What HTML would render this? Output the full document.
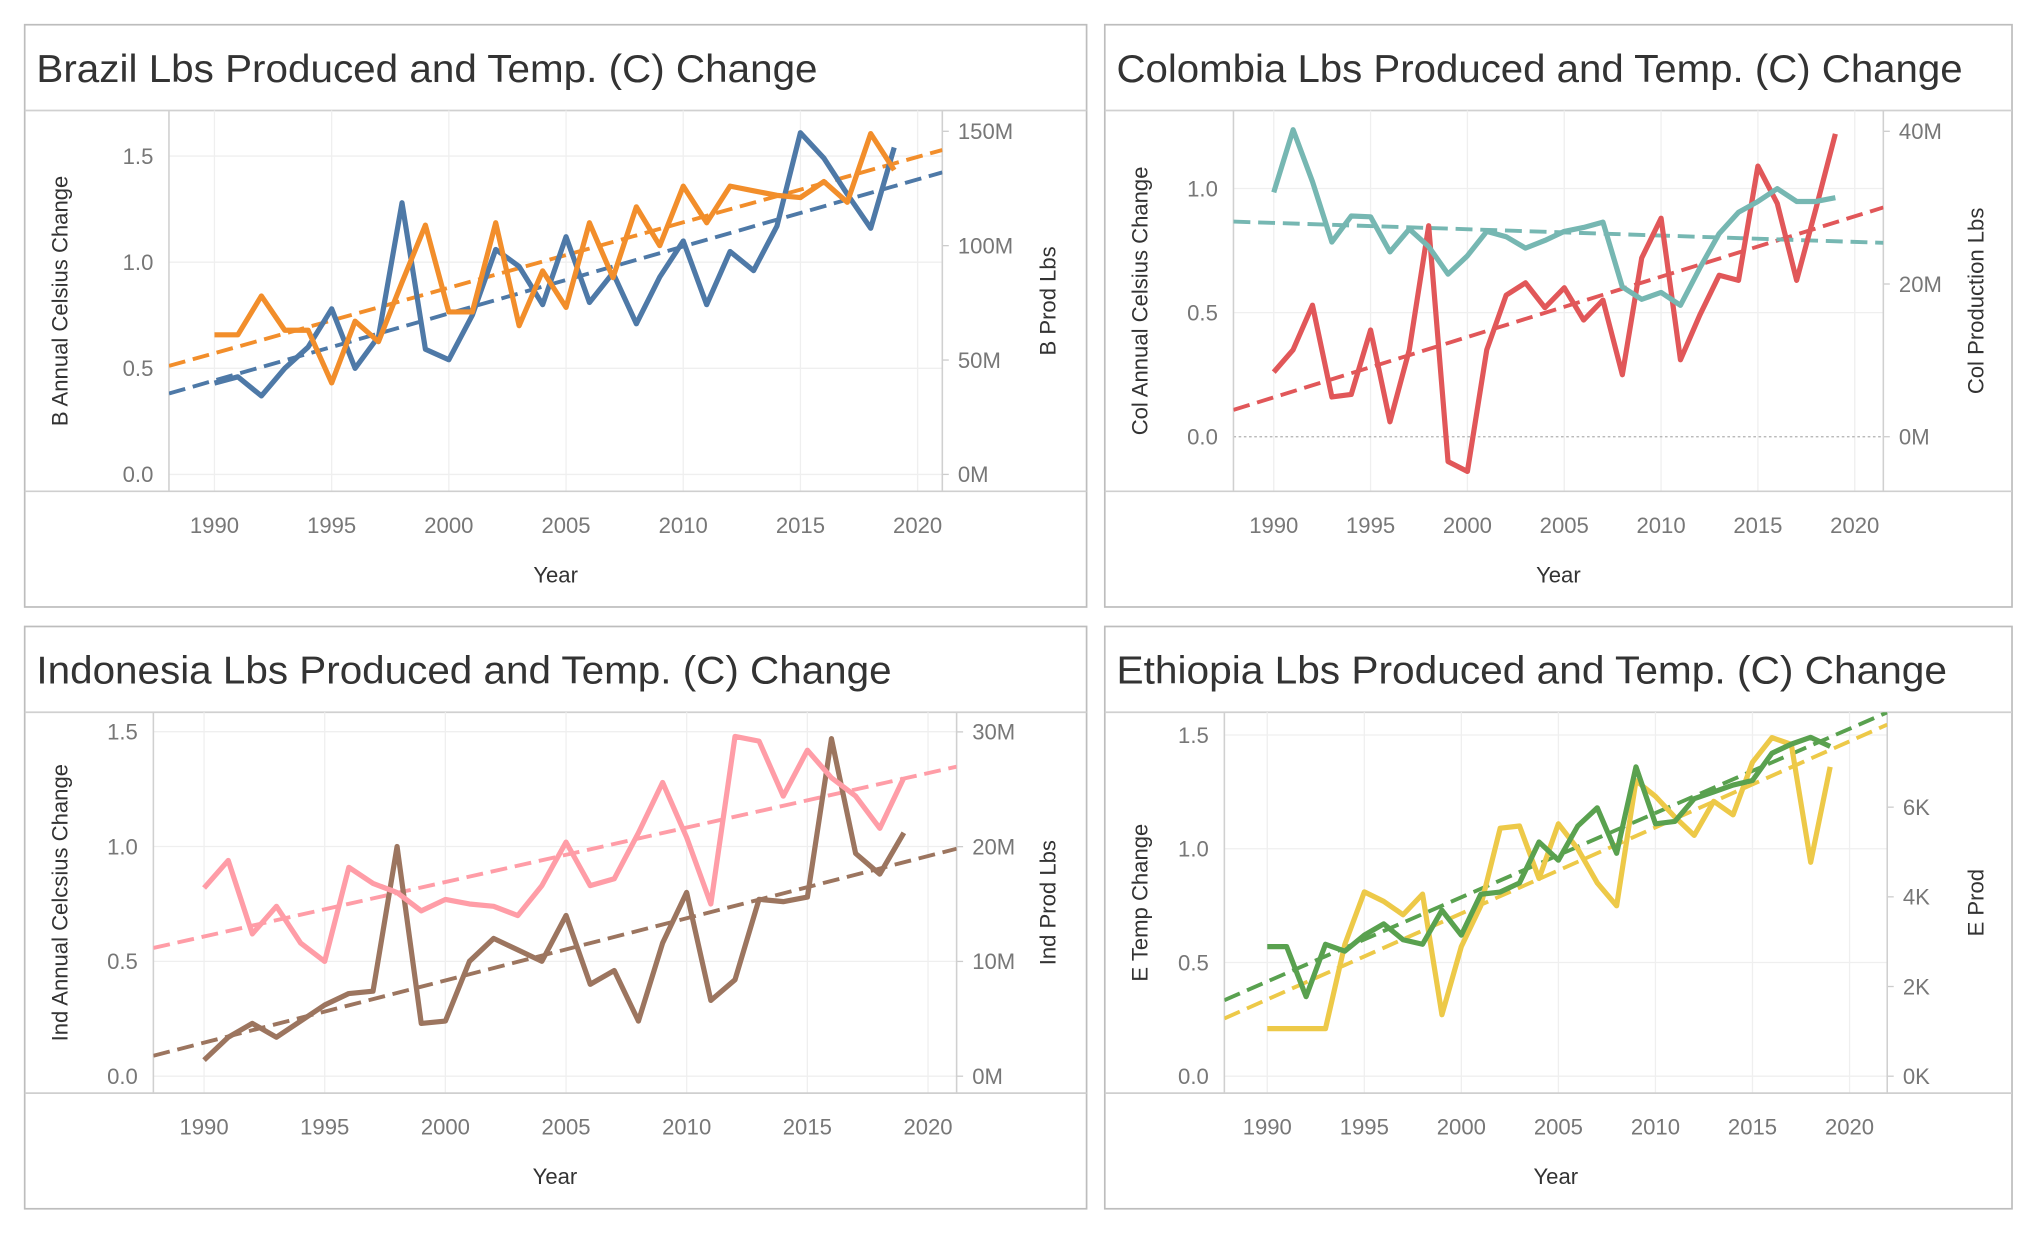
<!DOCTYPE html>
<html><head><meta charset="utf-8">
<style>
html,body{margin:0;padding:0;background:#fff;}
svg{display:block;}
text{font-family:"Liberation Sans",sans-serif;}
</style></head>
<body>
<svg id="chart" width="2038" height="1234" viewBox="0 0 1568 949.4" xmlns="http://www.w3.org/2000/svg"></svg>
<script>
// ---------- data ----------
const years = [1990,1991,1992,1993,1994,1995,1996,1997,1998,1999,2000,2001,2002,2003,2004,2005,2006,2007,2008,2009,2010,2011,2012,2013,2014,2015,2016,2017,2018,2019];
const xTicks = [1990,1995,2000,2005,2010,2015,2020];

const brazilTemp = [0.43,0.46,0.37,0.50,0.60,0.78,0.50,0.65,1.28,0.59,0.54,0.75,1.06,0.98,0.80,1.12,0.81,0.95,0.71,0.93,1.10,0.80,1.05,0.96,1.17,1.61,1.49,1.32,1.16,1.54];
const brazilProd = [61,61,78,63,63,40,67,58,84,109,71,71,110,65,89,73,110,86,117,100,126,110,126,124,122,121,128,119,149,133];
const brazilLeftTicks = [0,0.5,1.0,1.5];
const brazilRightTicks = [0,50,100,150];

const colombiaTemp = [0.26,0.35,0.53,0.16,0.17,0.43,0.06,0.35,0.85,-0.10,-0.14,0.35,0.57,0.62,0.52,0.60,0.47,0.55,0.25,0.72,0.88,0.31,0.49,0.65,0.63,1.09,0.94,0.63,0.92,1.22];
const colombiaProd = [32.0,40.2,33.4,25.5,28.9,28.8,24.2,27.2,24.9,21.3,23.7,26.9,26.2,24.7,25.7,26.9,27.4,28.1,19.6,18.0,18.9,17.2,22.1,26.6,29.4,30.8,32.5,30.8,30.8,31.3];
const colombiaLeftTicks = [0,0.5,1.0];
const colombiaRightTicks = [0,20,40];

const indonesiaTemp = [0.07,0.17,0.23,0.17,0.24,0.31,0.36,0.37,1.00,0.23,0.24,0.50,0.60,0.55,0.50,0.70,0.40,0.46,0.24,0.58,0.80,0.33,0.42,0.77,0.76,0.78,1.47,0.97,0.88,1.06];
const indonesiaProd = [16.4,18.8,12.4,14.8,11.6,10.0,18.2,16.8,16.0,14.4,15.4,15.0,14.8,14.0,16.6,20.4,16.6,17.2,21.2,25.6,20.8,15.0,29.6,29.2,24.4,28.4,26.0,24.4,21.6,26.0];
const indonesiaLeftTicks = [0,0.5,1.0,1.5];
const indonesiaRightTicks = [0,10,20,30];

const ethiopiaTemp = [0.57,0.57,0.35,0.58,0.55,0.62,0.67,0.60,0.58,0.73,0.62,0.80,0.81,0.85,1.03,0.95,1.10,1.18,0.98,1.36,1.11,1.12,1.22,1.25,1.28,1.30,1.42,1.46,1.49,1.45];
const ethiopiaProd = [1.06,1.06,1.06,1.06,2.94,4.11,3.90,3.60,4.06,1.37,2.89,3.80,5.53,5.58,4.41,5.63,5.07,4.31,3.80,6.59,6.24,5.78,5.37,6.13,5.83,7.00,7.55,7.40,4.77,6.90];
const ethiopiaLeftTicks = [0,0.5,1.0,1.5];
const ethiopiaRightTicks = [0,2,4,6];

// ---------- drawing ----------
const NS = "http://www.w3.org/2000/svg";
const svg = document.getElementById("chart");
function mk(tag, attrs, parent){
  const e = document.createElementNS(NS, tag);
  for (const k in attrs) e.setAttribute(k, attrs[k]);
  (parent||svg).appendChild(e);
  return e;
}
function regression(xs, ys){
  const n=xs.length; let sx=0,sy=0,sxx=0,sxy=0;
  for(let i=0;i<n;i++){sx+=xs[i];sy+=ys[i];sxx+=xs[i]*xs[i];sxy+=xs[i]*ys[i];}
  const b=(n*sxy-sx*sy)/(n*sxx-sx*sx); const a=(sy-b*sx)/n;
  return x=>a+b*x;
}

function drawPanel(c){
  const g = mk("g", {});
  
  
  const x = yr => c.x1990 + (yr-1990)*c.xPerYear;
  const yL = v => c.leftZero - v*c.leftPer;
  const yR = v => c.rightZero - v*c.rightPer;

  const border = mk("rect", {x:c.px, y:c.py, width:c.pw, height:c.ph, fill:"#fff", stroke:"#bdbdbd", "stroke-width":1.3}, g);
  
  

  const title = mk("text", {x:c.px+9, y:c.py+44, "font-size":30, fill:"#333", textLength:c.titleLen, lengthAdjust:"spacingAndGlyphs"}, g);
  title.textContent = c.title;
  
  

  const top = c.py+66, bottom = c.py+359;
  const sep1 = mk("line", {x1:c.px, x2:c.px+c.pw, y1:top, y2:top, stroke:"#d0d0d0", "stroke-width":1.3}, g);
  
  

  // gridlines
  xTicks.forEach(t=>{
    const l = mk("line", {x1:x(t), x2:x(t), y1:top, y2:bottom, stroke:"#efefef", "stroke-width":1}, g);
    
    
  });
  c.leftTicks.forEach(t=>{
    const yy = yL(t);
    const l = mk("line", {x1:c.plotL, x2:c.plotR, y1:yy, y2:yy, stroke: (t===0 && c.zeroDotted)?"#b0b0b0":"#efefef", "stroke-width":1, "stroke-dasharray": (t===0 && c.zeroDotted)?"2 2":"none"}, g);
    
    
    const lb = mk("text", {x:c.plotL-12, y:yy+6, "font-size":17, fill:"#777", "text-anchor":"end"}, g);
    lb.textContent = t.toFixed(1);
    
    
  });
  c.rightTicks.forEach(t=>{
    const yy = yR(t);
    const tk = mk("line", {x1:c.plotR, x2:c.plotR+5, y1:yy, y2:yy, stroke:"#ccc"}, g);
    
    
    const lb = mk("text", {x:c.plotR+12, y:yy+6, "font-size":17, fill:"#777"}, g);
    lb.textContent = t + c.rightUnit;
    
    
  });
  xTicks.forEach(t=>{
    const lb = mk("text", {x:x(t), y:bottom+32, "font-size":17, fill:"#777", "text-anchor":"middle"}, g);
    lb.textContent = t;
    
    
  });

  // axes borders
  const la = mk("line", {x1:c.plotL, x2:c.plotL, y1:top, y2:bottom, stroke:"#d0d0d0", "stroke-width":1.2}, g);
  
  
  const ra = mk("line", {x1:c.plotR, x2:c.plotR, y1:top, y2:bottom, stroke:"#d0d0d0", "stroke-width":1.2}, g);
  
  
  const ba = mk("line", {x1:c.px, x2:c.px+c.pw, y1:bottom, y2:bottom, stroke:"#cfcfcf", "stroke-width":1.3}, g);
  
  

  // axis titles
  const midY = (top+bottom)/2;
  const lt = mk("text", {x:0, y:0, "font-size":17, fill:"#333", "text-anchor":"middle", transform:`translate(${c.px+33},${midY}) rotate(-90)`}, g);
  lt.textContent = c.leftTitle;
  
  
  const rt = mk("text", {x:0, y:0, "font-size":17, fill:"#333", "text-anchor":"middle", transform:`translate(${c.rightTitleX},${midY}) rotate(-90)`}, g);
  rt.textContent = c.rightTitle;
  
  
  const xt = mk("text", {x:(c.plotL+c.plotR)/2, y:bottom+70, "font-size":17, fill:"#333", "text-anchor":"middle"}, g);
  xt.textContent = "Year";
  
  

  // clip
  const clipId = c.key + "-clip";
  const cp = mk("clipPath", {id:clipId}, g);
  mk("rect", {x:c.plotL, y:top, width:c.plotR-c.plotL, height:bottom-top}, cp);

  // series (production first, then temp drawn per order)
  c.series.forEach(s=>{
    const ys = s.axis==="L" ? yL : yR;
    const f = regression(years, s.values);
    const y0 = c.xMinYear, y1 = c.xMaxYear;
    const tr = mk("line", {x1:x(y0), y1:ys(f(y0)), x2:x(y1), y2:ys(f(y1)), stroke:s.color, "stroke-width":3, "stroke-dasharray":"13 6", "clip-path":`url(#${clipId})`}, g);
    
    
  });
  c.series.forEach(s=>{
    const ys = s.axis==="L" ? yL : yR;
    const d = years.map((yr,i)=>(i?"L":"M")+x(yr).toFixed(1)+","+ys(s.values[i]).toFixed(1)).join(" ");
    const p = mk("path", {d:d, fill:"none", stroke:s.color, "stroke-width":4, "stroke-linejoin":"round", "clip-path":`url(#${clipId})`}, g);
    
    
  });
}

function cfg(key, px, py, pw, title, titleLen, plotL, plotR, x1990, x2020, leftZero, leftPer, rightZero, rightPer, lt, rtTitle, rtX, rightUnit, lTicks, rTicks, series, zeroDotted){
  const xPerYear = (x2020-x1990)/30;
  return {key, px, py, pw, ph:448, title, titleLen, plotL, plotR, x1990, xPerYear,
    xMinYear:1990+(plotL-x1990)/xPerYear, xMaxYear:1990+(plotR-x1990)/xPerYear,
    leftZero, leftPer, rightZero, rightPer, leftTitle:lt, rightTitle:rtTitle, rightTitleX:rtX, rightUnit,
    leftTicks:lTicks, rightTicks:rTicks, series, zeroDotted};
}

drawPanel(cfg("brazil", 19, 19, 817, "Brazil Lbs Produced and Temp. (C) Change", 601,
  130, 725, 165, 706, 365, 163.3, 365, 1.76, "B Annual Celsius Change", "B Prod Lbs", 812, "M",
  brazilLeftTicks, brazilRightTicks,
  [{name:"brazil-temp", values:brazilTemp, axis:"L", color:"#4e79a7"},
   {name:"brazil-production", values:brazilProd, axis:"R", color:"#f28e2b"}], false));

drawPanel(cfg("colombia", 850, 19, 698, "Colombia Lbs Produced and Temp. (C) Change", 651,
  949, 1449, 980, 1427, 336, 191, 336, 5.875, "Col Annual Celsius Change", "Col Production Lbs", 1526, "M",
  colombiaLeftTicks, colombiaRightTicks,
  [{name:"colombia-temp", values:colombiaTemp, axis:"L", color:"#e15759"},
   {name:"colombia-production", values:colombiaProd, axis:"R", color:"#76b7b2"}], true));

drawPanel(cfg("indonesia", 19, 482, 817, "Indonesia Lbs Produced and Temp. (C) Change", 658,
  118, 736, 157, 714, 828, 176.7, 828, 8.83, "Ind Annual Celcsius Change", "Ind Prod Lbs", 812, "M",
  indonesiaLeftTicks, indonesiaRightTicks,
  [{name:"indonesia-temp", values:indonesiaTemp, axis:"L", color:"#9c755f"},
   {name:"indonesia-production", values:indonesiaProd, axis:"R", color:"#ff9da7"}], false));

drawPanel(cfg("ethiopia", 850, 482, 698, "Ethiopia Lbs Produced and Temp. (C) Change", 639,
  942, 1452, 975, 1423, 828, 175, 828, 34.5, "E Temp Change", "E Prod", 1526, "K",
  ethiopiaLeftTicks, ethiopiaRightTicks,
  [{name:"ethiopia-production", values:ethiopiaProd, axis:"R", color:"#edc948"},
   {name:"ethiopia-temp", values:ethiopiaTemp, axis:"L", color:"#59a14f"}], false));
</script>
</body></html>
